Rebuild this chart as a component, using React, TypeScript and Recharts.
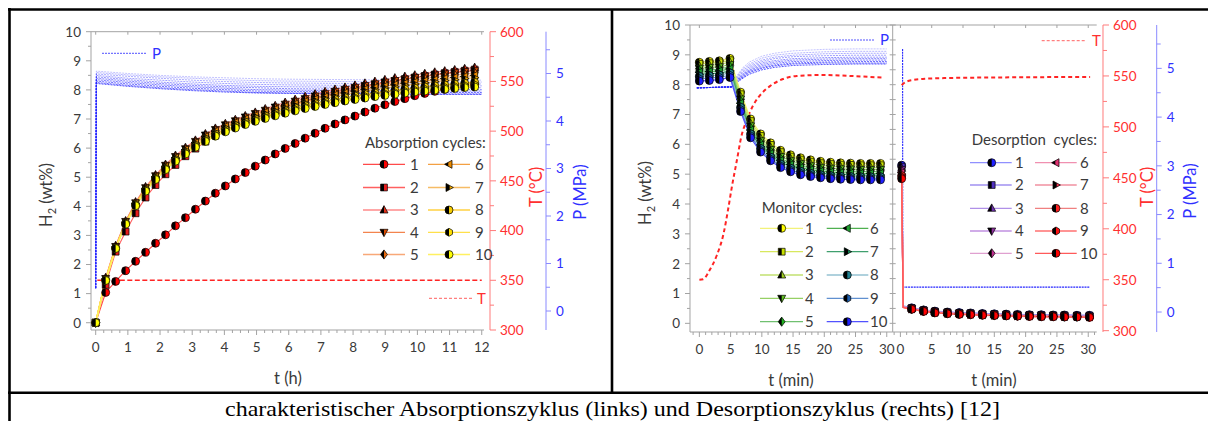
import React from "react";
import { ComposedChart, Line, XAxis, YAxis } from "recharts";

const FONT = "Lato, 'Open Sans', sans-serif";
const AXIS = "#a3a3a3";
const INK = "#3a3a3a";
const RED_AX = "#ff7a7a";
const RED_TXT = "#ff3030";
const BLUE_AX = "#8a8aff";
const BLUE_TXT = "#3030ff";
const P_LINE = "#2424ff";
const T_LINE = "#ff2424";

// ---------- absorption (left) ----------
const absTime = [0, 0.31, 0.62, 0.93, 1.24, 1.55, 1.86, 2.17, 2.48, 2.79, 3.1, 3.41, 3.72, 4.03, 4.34, 4.65, 4.96, 5.27, 5.58, 5.89, 6.2, 6.51, 6.82, 7.13, 7.44, 7.75, 8.06, 8.37, 8.68, 8.99, 9.3, 9.61, 9.92, 10.23, 10.54, 10.85, 11.16, 11.47, 11.78];
const abs1 = [0, 1.04, 1.42, 1.79, 2.11, 2.42, 2.73, 3.02, 3.33, 3.61, 3.9, 4.18, 4.45, 4.7, 4.94, 5.16, 5.38, 5.59, 5.8, 5.99, 6.16, 6.34, 6.51, 6.68, 6.83, 6.97, 7.1, 7.24, 7.37, 7.49, 7.6, 7.7, 7.8, 7.88, 7.95, 8.02, 8.08, 8.13, 8.18];
const abs2 = [0, 1.3, 2.44, 3.13, 3.76, 4.3, 4.73, 5.1, 5.42, 5.72, 5.98, 6.22, 6.43, 6.6, 6.76, 6.9, 7.03, 7.16, 7.28, 7.39, 7.5, 7.6, 7.7, 7.79, 7.88, 7.96, 8.04, 8.11, 8.18, 8.25, 8.31, 8.37, 8.43, 8.48, 8.53, 8.58, 8.62, 8.66, 8.7];
const abs3 = [0, 1.55, 2.65, 3.5, 4.15, 4.67, 5.08, 5.44, 5.75, 6.02, 6.27, 6.49, 6.68, 6.84, 6.98, 7.11, 7.23, 7.35, 7.46, 7.57, 7.67, 7.77, 7.86, 7.94, 8.02, 8.09, 8.16, 8.23, 8.29, 8.35, 8.41, 8.46, 8.51, 8.56, 8.61, 8.65, 8.69, 8.73, 8.77];
const abs4 = [0, 1.52, 2.62, 3.48, 4.12, 4.64, 5.05, 5.41, 5.71, 5.98, 6.23, 6.45, 6.64, 6.8, 6.94, 7.07, 7.19, 7.3, 7.41, 7.51, 7.61, 7.7, 7.79, 7.87, 7.95, 8.02, 8.09, 8.15, 8.21, 8.27, 8.32, 8.37, 8.42, 8.47, 8.51, 8.55, 8.59, 8.63, 8.66];
const abs5 = [0, 1.5, 2.6, 3.46, 4.1, 4.62, 5.03, 5.39, 5.69, 5.96, 6.2, 6.42, 6.61, 6.77, 6.91, 7.04, 7.16, 7.27, 7.37, 7.47, 7.57, 7.66, 7.74, 7.82, 7.89, 7.96, 8.03, 8.09, 8.15, 8.2, 8.25, 8.3, 8.35, 8.39, 8.43, 8.47, 8.51, 8.54, 8.58];
const abs6 = [0, 1.5, 2.6, 3.45, 4.1, 4.61, 5.02, 5.37, 5.67, 5.94, 6.18, 6.39, 6.58, 6.74, 6.88, 7.0, 7.12, 7.23, 7.33, 7.43, 7.52, 7.6, 7.68, 7.76, 7.83, 7.9, 7.96, 8.02, 8.08, 8.13, 8.18, 8.23, 8.27, 8.31, 8.35, 8.39, 8.43, 8.46, 8.5];
const abs7 = [0, 1.48, 2.58, 3.43, 4.08, 4.59, 5.0, 5.35, 5.65, 5.91, 6.15, 6.36, 6.54, 6.7, 6.84, 6.96, 7.08, 7.18, 7.28, 7.38, 7.47, 7.55, 7.63, 7.7, 7.77, 7.84, 7.9, 7.96, 8.01, 8.06, 8.11, 8.16, 8.2, 8.24, 8.28, 8.32, 8.35, 8.39, 8.42];
const abs8 = [0, 1.47, 2.57, 3.42, 4.06, 4.56, 4.96, 5.3, 5.6, 5.86, 6.09, 6.3, 6.48, 6.63, 6.77, 6.89, 7.0, 7.1, 7.2, 7.29, 7.38, 7.46, 7.53, 7.6, 7.67, 7.73, 7.79, 7.84, 7.89, 7.94, 7.98, 8.02, 8.06, 8.1, 8.14, 8.17, 8.2, 8.23, 8.26];
const abs9 = [0, 1.46, 2.56, 3.4, 4.04, 4.54, 4.94, 5.28, 5.57, 5.83, 6.06, 6.26, 6.44, 6.59, 6.72, 6.84, 6.95, 7.05, 7.15, 7.24, 7.32, 7.4, 7.47, 7.54, 7.6, 7.66, 7.72, 7.77, 7.82, 7.86, 7.9, 7.94, 7.98, 8.02, 8.05, 8.08, 8.11, 8.14, 8.17];
const abs10 = [0, 1.45, 2.55, 3.39, 4.02, 4.52, 4.92, 5.26, 5.55, 5.8, 6.03, 6.23, 6.41, 6.56, 6.69, 6.81, 6.92, 7.02, 7.11, 7.2, 7.28, 7.36, 7.43, 7.5, 7.56, 7.62, 7.67, 7.72, 7.77, 7.81, 7.85, 7.89, 7.93, 7.96, 7.99, 8.02, 8.05, 8.08, 8.1];

const absPTime = [0, 0.02, 1, 2, 3, 4, 5, 6, 8, 10, 12];
const absP = [
  [0.48, 5.05, 5.0, 4.96, 4.93, 4.91, 4.89, 4.88, 4.87, 4.86, 4.86],
  [0.48, 5.02, 4.97, 4.93, 4.9, 4.87, 4.85, 4.84, 4.83, 4.82, 4.82],
  [0.48, 4.99, 4.94, 4.9, 4.86, 4.83, 4.81, 4.8, 4.79, 4.78, 4.78],
  [0.48, 4.96, 4.9, 4.86, 4.82, 4.79, 4.77, 4.76, 4.75, 4.74, 4.74],
  [0.48, 4.93, 4.87, 4.82, 4.78, 4.75, 4.73, 4.72, 4.71, 4.7, 4.7],
  [0.48, 4.9, 4.84, 4.79, 4.75, 4.72, 4.7, 4.68, 4.67, 4.67, 4.66],
  [0.48, 4.87, 4.81, 4.76, 4.72, 4.69, 4.66, 4.65, 4.64, 4.63, 4.63],
  [0.48, 4.84, 4.78, 4.73, 4.69, 4.66, 4.63, 4.62, 4.61, 4.6, 4.6],
  [0.48, 4.81, 4.75, 4.7, 4.66, 4.63, 4.6, 4.59, 4.58, 4.57, 4.57],
  [0.48, 4.79, 4.73, 4.68, 4.64, 4.61, 4.59, 4.58, 4.57, 4.56, 4.56],
];
const absTempTime = [0.05, 12];
const absTemp = [350, 350];

// ---------- monitor (right panel, left part) ----------
const monTime = [0, 1.6, 3.2, 4.9, 6.6, 8.2, 9.8, 11.4, 13, 14.6, 16.2, 17.8, 19.4, 21, 22.6, 24.2, 25.8, 27.4, 29];
const mon = [
  [8.75, 8.78, 8.8, 8.88, 7.75, 6.85, 6.35, 6.05, 5.8, 5.65, 5.55, 5.48, 5.43, 5.4, 5.38, 5.37, 5.36, 5.36, 5.36],
  [8.7, 8.72, 8.75, 8.82, 7.68, 6.78, 6.28, 5.98, 5.74, 5.59, 5.49, 5.42, 5.37, 5.34, 5.32, 5.31, 5.3, 5.3, 5.3],
  [8.62, 8.65, 8.68, 8.75, 7.6, 6.7, 6.2, 5.9, 5.66, 5.52, 5.42, 5.35, 5.3, 5.27, 5.25, 5.24, 5.23, 5.23, 5.23],
  [8.55, 8.58, 8.6, 8.67, 7.52, 6.62, 6.12, 5.83, 5.59, 5.45, 5.35, 5.28, 5.23, 5.2, 5.18, 5.17, 5.16, 5.16, 5.16],
  [8.48, 8.5, 8.52, 8.6, 7.45, 6.55, 6.05, 5.76, 5.52, 5.38, 5.28, 5.21, 5.16, 5.13, 5.11, 5.1, 5.09, 5.09, 5.09],
  [8.42, 8.44, 8.46, 8.53, 7.38, 6.48, 5.98, 5.69, 5.46, 5.32, 5.22, 5.15, 5.1, 5.07, 5.05, 5.04, 5.03, 5.03, 5.03],
  [8.35, 8.37, 8.39, 8.46, 7.31, 6.41, 5.92, 5.63, 5.4, 5.26, 5.16, 5.09, 5.04, 5.01, 4.99, 4.98, 4.97, 4.97, 4.97],
  [8.28, 8.3, 8.32, 8.39, 7.24, 6.35, 5.86, 5.57, 5.34, 5.2, 5.1, 5.03, 4.98, 4.95, 4.93, 4.92, 4.91, 4.91, 4.91],
  [8.2, 8.22, 8.25, 8.32, 7.17, 6.29, 5.8, 5.51, 5.28, 5.14, 5.04, 4.97, 4.93, 4.9, 4.88, 4.87, 4.86, 4.86, 4.86],
  [8.12, 8.14, 8.17, 8.24, 7.1, 6.22, 5.74, 5.45, 5.22, 5.08, 4.98, 4.92, 4.88, 4.85, 4.83, 4.82, 4.81, 4.81, 4.81],
];
const monPTime = [-0.4, 5.2, 6, 7, 8, 10, 12, 15, 20, 25, 30];
const monP = [
  [4.6, 4.62, 4.85, 5.02, 5.13, 5.25, 5.31, 5.36, 5.39, 5.4, 5.4],
  [4.6, 4.62, 4.83, 4.99, 5.09, 5.21, 5.27, 5.31, 5.34, 5.35, 5.35],
  [4.6, 4.62, 4.81, 4.96, 5.06, 5.17, 5.23, 5.27, 5.3, 5.31, 5.31],
  [4.6, 4.62, 4.79, 4.93, 5.03, 5.14, 5.2, 5.24, 5.26, 5.27, 5.27],
  [4.6, 4.62, 4.77, 4.9, 5.0, 5.11, 5.16, 5.2, 5.22, 5.23, 5.23],
  [4.6, 4.62, 4.76, 4.88, 4.97, 5.08, 5.13, 5.17, 5.19, 5.2, 5.2],
  [4.6, 4.62, 4.74, 4.86, 4.95, 5.05, 5.1, 5.14, 5.16, 5.17, 5.17],
  [4.6, 4.62, 4.73, 4.84, 4.93, 5.02, 5.07, 5.11, 5.13, 5.14, 5.14],
  [4.6, 4.62, 4.72, 4.82, 4.91, 5.0, 5.05, 5.09, 5.11, 5.11, 5.11],
  [4.6, 4.62, 4.71, 4.8, 4.88, 4.97, 5.02, 5.06, 5.08, 5.09, 5.09],
];
const monTempTime = [0, 0.6, 1.7, 2.8, 3.9, 4.6, 5.2, 6.0, 6.7, 7.6, 8.6, 10, 11.3, 13.4, 15.6, 19.8, 24.1, 29.4];
const monTemp = [350, 350.5, 360, 374, 396, 419, 441, 467, 490, 507, 521, 533, 540, 547, 550, 551, 550, 548.3];

// ---------- desorption (right panel, right part) ----------
const desTime = [0.2, 0.45, 1.8, 3.7, 5.5, 7.5, 9.4, 11.2, 13.1, 15, 16.9, 18.7, 20.6, 22.5, 24.4, 26.2, 28.2, 30.2];
const des = [
  [5.3, 0.58, 0.52, 0.45, 0.41, 0.38, 0.36, 0.35, 0.33, 0.32, 0.31, 0.3, 0.29, 0.29, 0.28, 0.28, 0.27, 0.27],
  [5.25, 0.57, 0.51, 0.44, 0.4, 0.37, 0.35, 0.34, 0.32, 0.31, 0.3, 0.29, 0.28, 0.28, 0.27, 0.27, 0.26, 0.26],
  [5.2, 0.56, 0.5, 0.44, 0.39, 0.36, 0.34, 0.33, 0.31, 0.3, 0.29, 0.28, 0.27, 0.27, 0.26, 0.26, 0.25, 0.25],
  [5.15, 0.56, 0.5, 0.43, 0.38, 0.35, 0.33, 0.32, 0.3, 0.29, 0.28, 0.27, 0.26, 0.26, 0.25, 0.25, 0.24, 0.24],
  [5.1, 0.55, 0.49, 0.42, 0.38, 0.35, 0.33, 0.31, 0.3, 0.28, 0.27, 0.26, 0.26, 0.25, 0.24, 0.24, 0.23, 0.23],
  [5.05, 0.55, 0.49, 0.42, 0.37, 0.34, 0.32, 0.31, 0.29, 0.28, 0.27, 0.26, 0.25, 0.24, 0.24, 0.23, 0.23, 0.22],
  [5.0, 0.54, 0.48, 0.41, 0.37, 0.34, 0.32, 0.3, 0.29, 0.27, 0.26, 0.25, 0.25, 0.24, 0.23, 0.23, 0.22, 0.22],
  [4.95, 0.54, 0.48, 0.41, 0.36, 0.33, 0.31, 0.3, 0.28, 0.27, 0.26, 0.25, 0.24, 0.23, 0.23, 0.22, 0.22, 0.21],
  [4.9, 0.53, 0.47, 0.4, 0.36, 0.33, 0.31, 0.29, 0.28, 0.26, 0.25, 0.24, 0.24, 0.23, 0.22, 0.22, 0.21, 0.21],
  [4.85, 0.53, 0.47, 0.4, 0.35, 0.32, 0.3, 0.29, 0.27, 0.26, 0.25, 0.24, 0.23, 0.22, 0.22, 0.21, 0.21, 0.2],
];
const desLineOnlyIdx = [1];
const desPTime = [0.35, 0.38, 30.3];
const desP = [5.4, 0.51, 0.51];
const desTempTime = [0.2, 0.8, 2, 4, 8, 15, 30.3];
const desTemp = [541, 544, 546, 547.3, 548, 548.5, 549];

// ---------- styling per cycle ----------
type Shape = "circle" | "square" | "up" | "down" | "diamond" | "left" | "right" | "hex";
const SHAPES: Shape[] = ["circle", "square", "up", "down", "diamond", "left", "right", "circle", "hex", "circle"];
const ABS_LINE = ["#ff4a4a", "#ff6060", "#ff8a8a", "#f3844e", "#f8a878", "#f3a043", "#f6bc66", "#ffd040", "#ffe04a", "#fff060"];
const ABS_FILL = ["#ff0000", "#e81c1c", "#e0301a", "#d84a00", "#e86a10", "#ea8a00", "#f0a800", "#f5cc00", "#ffe000", "#ffff00"];
const MON_LINE = ["#f2f27a", "#d8e85e", "#c2e070", "#96d064", "#70c070", "#4fb050", "#3f9f6e", "#94c2d2", "#6090d0", "#5252ff"];
const MON_FILL = ["#ffff00", "#c8e000", "#a0d020", "#60c020", "#20b020", "#20a030", "#108050", "#208090", "#2060b0", "#2020ff"];
const DES_LINE = ["#9090ff", "#a090f0", "#b090e8", "#c090e0", "#e0a0d0", "#f090b0", "#f090a0", "#f08080", "#ff7070", "#ff5a5a"];
const DES_FILL = ["#2020ff", "#5030c0", "#7030b0", "#9030a0", "#c03090", "#e03070", "#f03050", "#ff2020", "#ff1010", "#ff0000"];

const range = (a: number, b: number, s: number) => {
  const out: number[] = [];
  for (let v = a; v <= b + 1e-9; v += s) out.push(Math.round(v * 1000) / 1000);
  return out;
};
const xy = (xs: number[], ys: number[]) => ys.map((y, i) => ({ x: xs[i], y }));
const isInt = (v: number) => Math.abs(v - Math.round(v)) < 1e-6;
const isMul = (m: number) => (v: number) => Math.abs(v / m - Math.round(v / m)) < 1e-6;

function shapePath(shape: Shape, cx: number, cy: number, r: number): string {
  switch (shape) {
    case "circle":
      return `M${cx - r},${cy}a${r},${r} 0 1,0 ${2 * r},0a${r},${r} 0 1,0 ${-2 * r},0Z`;
    case "square": {
      const s = r * 0.85;
      return `M${cx - s},${cy - s}h${2 * s}v${2 * s}h${-2 * s}Z`;
    }
    case "up":
      return `M${cx},${cy - r * 1.1}L${cx + r},${cy + r * 0.75}L${cx - r},${cy + r * 0.75}Z`;
    case "down":
      return `M${cx},${cy + r * 1.1}L${cx + r},${cy - r * 0.75}L${cx - r},${cy - r * 0.75}Z`;
    case "diamond":
      return `M${cx},${cy - r * 1.15}L${cx + r * 0.85},${cy}L${cx},${cy + r * 1.15}L${cx - r * 0.85},${cy}Z`;
    case "left":
      return `M${cx - r * 1.1},${cy}L${cx + r * 0.75},${cy - r}L${cx + r * 0.75},${cy + r}Z`;
    case "right":
      return `M${cx + r * 1.1},${cy}L${cx - r * 0.75},${cy - r}L${cx - r * 0.75},${cy + r}Z`;
    case "hex": {
      const pts = [0, 1, 2, 3, 4, 5].map((k) => {
        const a = (Math.PI / 3) * k + Math.PI / 6;
        return `${cx + r * Math.cos(a)},${cy + r * Math.sin(a)}`;
      });
      return `M${pts.join("L")}Z`;
    }
  }
}

function Marker({ cx, cy, shape, fill, r = 4 }: { cx: number; cy: number; shape: Shape; fill: string; r?: number }) {
  const d = shapePath(shape, cx, cy, r);
  return (
    <g>
      <path d={d} fill={fill} />
      <path d={d} fill="#000" clipPath="url(#halfL)" />
      <path d={d} fill="none" stroke="#000" strokeWidth={0.7} />
    </g>
  );
}

const dotFor = (id: string, shape: Shape, fill: string, skip: number[] = []) => (p: any) => {
  const key = `${id}-${p.index}`;
  if (skip.includes(p.index) || p.cx == null || p.cy == null) return <g key={key} />;
  return <Marker key={key} cx={p.cx} cy={p.cy} shape={shape} fill={fill} />;
};

type Orient = "left" | "right" | "bottom" | "top" | "both";
function tickFn(o: Orient, major: (v: number) => boolean, lineColor: string, textColor: string, label: boolean, big = 5, small = 3) {
  return (props: any) => {
    const { x, y, payload } = props;
    const v = payload.value as number;
    const M = major(v);
    const len = M ? big : small;
    const txt = String(Math.round(v));
    const ts = { fontFamily: FONT, fontSize: 13.5, fill: textColor };
    if (o === "left")
      return (
        <g>
          <line x1={x} y1={y} x2={x - len} y2={y} stroke={lineColor} />
          {label && M && <text x={x - 10} y={y} dy="0.36em" textAnchor="end" style={ts}>{txt}</text>}
        </g>
      );
    if (o === "right")
      return (
        <g>
          <line x1={x} y1={y} x2={x + len} y2={y} stroke={lineColor} />
          {label && M && <text x={x + 10} y={y} dy="0.36em" textAnchor="start" style={ts}>{txt}</text>}
        </g>
      );
    if (o === "both") return <line x1={x - len} y1={y} x2={x + len} y2={y} stroke={lineColor} />;
    if (o === "top") return <line x1={x} y1={y} x2={x} y2={y + 3} stroke={lineColor} />;
    return (
      <g>
        <line x1={x} y1={y} x2={x} y2={y + len} stroke={lineColor} />
        {label && M && <text x={x} y={y + 17} dy="0.36em" textAnchor="middle" style={ts}>{txt}</text>}
      </g>
    );
  };
}

const H_TICKS = range(0, 10, 0.5);
const T_TICKS = range(300, 600, 25);
const P_TICKS = range(0, 5.5, 0.5);
const ABS_X_TICKS = range(0, 12, 0.25);
const ABS_TOP_TICKS = range(0, 12, 1);
const MIN_X_TICKS = range(-1, 30, 1);
const DES_X_TICKS = range(-1, 31, 1);
const MIN_TOP_TICKS = range(0, 30, 5);

const axisCommon = { tickSize: 0, tickMargin: 0, tickLine: false, interval: 0 as const, allowDataOverflow: true };
// dotted pressure traces: upper ones paler, lower ones darker
const pStyle = (i: number) => ({ stroke: P_LINE, strokeWidth: 0.8, strokeDasharray: "2 1", strokeOpacity: 0.35 + i * 0.07 });

// right-hand axes: ids sorted so the spacer sits next to the plot, then T, then P
function LeftChart() {
  return (
    <ComposedChart width={620} height={392} margin={{ top: 31.7, right: 34, bottom: 32, left: 41 }}>
      <XAxis xAxisId="b" type="number" dataKey="x" domain={[-0.146, 12.07]} ticks={ABS_X_TICKS} height={30}
        axisLine={{ stroke: AXIS }} tick={tickFn("bottom", isInt, AXIS, INK, true)} {...axisCommon} />
      <XAxis xAxisId="t" orientation="top" mirror type="number" dataKey="x" domain={[-0.146, 12.07]} ticks={ABS_TOP_TICKS}
        axisLine={{ stroke: AXIS }} tick={tickFn("top", isInt, AXIS, INK, false)} {...axisCommon} />
      <YAxis yAxisId="h" orientation="left" width={50} type="number" domain={[-0.25, 10]} ticks={H_TICKS}
        axisLine={{ stroke: AXIS }} tick={tickFn("left", isInt, AXIS, INK, true)} {...axisCommon} />
      <YAxis yAxisId="c_P" orientation="right" width={40} type="number" domain={[-0.4, 5.88]} ticks={P_TICKS}
        axisLine={{ stroke: BLUE_AX }} tick={tickFn("right", isInt, BLUE_AX, BLUE_TXT, true, 5, 4)} {...axisCommon} />
      <YAxis yAxisId="b_T" orientation="right" width={56} type="number" domain={[300, 600]} ticks={T_TICKS}
        axisLine={{ stroke: RED_AX }} tick={tickFn("right", isMul(50), RED_AX, RED_TXT, true, 6, 4)} {...axisCommon} />
      <YAxis yAxisId="a_sp" orientation="right" width={6} type="number" domain={[0, 1]} axisLine={false} tick={false} tickLine={false} />
      {absP.map((ys, i) => (
        <Line key={`ap${i}`} xAxisId="b" yAxisId="c_P" data={xy(absPTime, ys)} dataKey="y" {...pStyle(i)}
          dot={false} activeDot={false} isAnimationActive={false} />
      ))}
      <Line xAxisId="b" yAxisId="b_T" data={xy(absTempTime, absTemp)} dataKey="y" stroke={T_LINE} strokeWidth={1.5}
        strokeDasharray="5 2.5" dot={false} activeDot={false} isAnimationActive={false} />
      {[abs1, abs2, abs3, abs4, abs5, abs6, abs7, abs8, abs9, abs10].map((ys, i) => (
        <Line key={`a${i}`} xAxisId="b" yAxisId="h" data={xy(absTime, ys)} dataKey="y" stroke={ABS_LINE[i]}
          strokeWidth={i >= 7 ? 1.6 : 1.1} dot={dotFor(`a${i}`, SHAPES[i], ABS_FILL[i])} activeDot={false} isAnimationActive={false} />
      ))}
    </ComposedChart>
  );
}

function MonitorChart() {
  return (
    <ComposedChart width={292.7} height={392} margin={{ top: 25, right: 12, bottom: 30, left: 28 }}>
      <XAxis xAxisId="b" type="number" dataKey="x" domain={[-1.5, 30.95]} ticks={MIN_X_TICKS} height={30}
        axisLine={{ stroke: AXIS }} tick={tickFn("bottom", isMul(5), AXIS, INK, true)} {...axisCommon} />
      <XAxis xAxisId="t" orientation="top" mirror type="number" dataKey="x" domain={[-1.5, 30.95]} ticks={MIN_TOP_TICKS}
        axisLine={{ stroke: AXIS }} tick={tickFn("top", isInt, AXIS, INK, false)} {...axisCommon} />
      <YAxis yAxisId="h" orientation="left" width={50} type="number" domain={[-0.29, 10]} ticks={H_TICKS}
        axisLine={{ stroke: AXIS }} tick={tickFn("left", isInt, AXIS, INK, true)} {...axisCommon} />
      <YAxis yAxisId="T" orientation="right" hide type="number" domain={[298.7, 600]} allowDataOverflow />
      <YAxis yAxisId="P" orientation="right" hide type="number" domain={[-0.41, 5.89]} allowDataOverflow />
      {monP.map((ys, i) => (
        <Line key={`mp${i}`} xAxisId="b" yAxisId="P" data={xy(monPTime, ys)} dataKey="y" {...pStyle(i)}
          dot={false} activeDot={false} isAnimationActive={false} />
      ))}
      <Line xAxisId="b" yAxisId="T" type="monotone" data={xy(monTempTime, monTemp)} dataKey="y" stroke={T_LINE} strokeWidth={2}
        strokeDasharray="4 3" dot={false} activeDot={false} isAnimationActive={false} />
      {mon.map((ys, i) => (
        <Line key={`m${i}`} xAxisId="b" yAxisId="h" data={xy(monTime, ys)} dataKey="y" stroke={MON_LINE[i]}
          strokeWidth={1.2} dot={dotFor(`m${i}`, SHAPES[i], MON_FILL[i])} activeDot={false} isAnimationActive={false} />
      ))}
    </ComposedChart>
  );
}

function DesorptionChart() {
  return (
    <ComposedChart width={326.7} height={392} margin={{ top: 25, right: 5, bottom: 30, left: 0 }}>
      <XAxis xAxisId="b" type="number" dataKey="x" domain={[-1.23, 31.35]} ticks={DES_X_TICKS} height={30}
        axisLine={{ stroke: AXIS }} tick={tickFn("bottom", isMul(5), AXIS, INK, true)} {...axisCommon} />
      <XAxis xAxisId="t" orientation="top" mirror type="number" dataKey="x" domain={[-1.23, 31.35]} ticks={MIN_TOP_TICKS}
        axisLine={{ stroke: AXIS }} tick={tickFn("top", isInt, AXIS, INK, false)} {...axisCommon} />
      <YAxis yAxisId="h" orientation="left" width={12.7} type="number" domain={[-0.29, 10]} ticks={H_TICKS}
        axisLine={{ stroke: AXIS }} tick={tickFn("both", isInt, AXIS, INK, false, 3, 3)} {...axisCommon} />
      <YAxis yAxisId="c_P" orientation="right" width={45} type="number" domain={[-0.41, 5.89]} ticks={P_TICKS}
        axisLine={{ stroke: BLUE_AX }} tick={tickFn("right", isInt, BLUE_AX, BLUE_TXT, true, 5, 4)} {...axisCommon} />
      <YAxis yAxisId="b_T" orientation="right" width={53.7} type="number" domain={[298.7, 600]} ticks={T_TICKS}
        axisLine={{ stroke: RED_AX }} tick={tickFn("right", isMul(50), RED_AX, RED_TXT, true, 6, 4)} {...axisCommon} />
      <YAxis yAxisId="a_sp" orientation="right" width={6.3} type="number" domain={[0, 1]} axisLine={false} tick={false} tickLine={false} />
      <Line xAxisId="b" yAxisId="c_P" data={xy(desPTime, desP)} dataKey="y" stroke={P_LINE} strokeWidth={1.1}
        strokeDasharray="2 0.8" dot={false} activeDot={false} isAnimationActive={false} />
      <Line xAxisId="b" yAxisId="b_T" type="monotone" data={xy(desTempTime, desTemp)} dataKey="y" stroke={T_LINE} strokeWidth={2}
        strokeDasharray="4 3" dot={false} activeDot={false} isAnimationActive={false} />
      {des.map((ys, i) => (
        <Line key={`d${i}`} xAxisId="b" yAxisId="h" data={xy(desTime, ys)} dataKey="y" stroke={DES_LINE[i]}
          strokeWidth={1.4} dot={dotFor(`d${i}`, SHAPES[i], DES_FILL[i], desLineOnlyIdx)} activeDot={false} isAnimationActive={false} />
      ))}
    </ComposedChart>
  );
}

type LegendSpec = {
  title: string;
  titleX: number;
  titleY: number;
  rows: number[];
  cols: { x1: number; x2: number; m: number; lx: number }[];
  lines: string[];
  fills: string[];
};

function LegendBlock({ s }: { s: LegendSpec }) {
  const ts = { fontFamily: FONT, fontSize: 15, fill: INK, whiteSpace: "pre" as const };
  return (
    <g>
      <text x={s.titleX} y={s.titleY} dy="0.36em" style={ts}>{s.title}</text>
      {s.lines.map((c, i) => {
        const col = s.cols[i < 5 ? 0 : 1];
        const y = s.rows[i % 5];
        return (
          <g key={i}>
            <line x1={col.x1} y1={y} x2={col.x2} y2={y} stroke={c} strokeWidth={1.3} />
            <Marker cx={col.m} cy={y} shape={SHAPES[i]} fill={s.fills[i]} />
            <text x={col.lx} y={y} dy="0.36em" style={ts}>{String(i + 1)}</text>
          </g>
        );
      })}
    </g>
  );
}

const absLegend: LegendSpec = {
  title: "Absorption cycles:", titleX: 365, titleY: 142.5,
  rows: [164.3, 187.5, 210, 232.3, 254.5],
  cols: [{ x1: 363, x2: 405, m: 384, lx: 410 }, { x1: 428, x2: 470, m: 449, lx: 475 }],
  lines: ABS_LINE, fills: ABS_FILL,
};
const monLegend: LegendSpec = {
  title: "Monitor cycles:", titleX: 761.7, titleY: 207.3,
  rows: [228.3, 251.7, 275, 298.3, 321.7],
  cols: [{ x1: 760, x2: 803, m: 781.7, lx: 805 }, { x1: 826.7, x2: 868.3, m: 847.3, lx: 870 }],
  lines: MON_LINE, fills: MON_FILL,
};
const desLegend: LegendSpec = {
  title: "Desorption  cycles:", titleX: 971.7, titleY: 139.5,
  rows: [162.7, 185, 208.3, 231, 253.3],
  cols: [{ x1: 970, x2: 1011.7, m: 991.7, lx: 1015 }, { x1: 1035, x2: 1076.7, m: 1056, lx: 1080 }],
  lines: DES_LINE, fills: DES_FILL,
};

function VTitle({ x, y, color, children }: { x: number; y: number; color: string; children: React.ReactNode }) {
  return (
    <text x={x} y={y} transform={`rotate(-90 ${x} ${y})`} textAnchor="middle" dy="0.36em"
      style={{ fontFamily: FONT, fontSize: 16.5, fill: color }}>
      {children}
    </text>
  );
}

function Overlay() {
  const tt = { fontFamily: FONT, fontSize: 16.5, fill: INK };
  return (
    <svg width={1208} height={421} style={{ position: "absolute", left: 0, top: 0, pointerEvents: "none" }}>
      {/* frame */}
      <line x1={9.5} y1={8} x2={9.5} y2={421} stroke="#000" strokeWidth={2.6} />
      <line x1={8} y1={9.5} x2={1208} y2={9.5} stroke="#000" strokeWidth={2.6} />
      <line x1={612} y1={9} x2={612} y2={392} stroke="#000" strokeWidth={2.6} />
      <line x1={8} y1={392.7} x2={1208} y2={392.7} stroke="#000" strokeWidth={2.6} />

      {/* axis titles */}
      <VTitle x={46.5} y={195} color={INK}>H<tspan dy="4" fontSize={11}>2</tspan><tspan dy="-4"> (wt%)</tspan></VTitle>
      <VTitle x={645} y={193} color={INK}>H<tspan dy="4" fontSize={11}>2</tspan><tspan dy="-4"> (wt%)</tspan></VTitle>
      <VTitle x={536} y={187} color={RED_TXT}>T (°C)</VTitle>
      <VTitle x={580} y={192} color={BLUE_TXT}>P (MPa)</VTitle>
      <VTitle x={1147} y={187} color={RED_TXT}>T (°C)</VTitle>
      <VTitle x={1190} y={191} color={BLUE_TXT}>P (MPa)</VTitle>
      <text x={288} y={378} dy="0.36em" textAnchor="middle" style={tt}>t (h)</text>
      <text x={791} y={380} dy="0.36em" textAnchor="middle" style={tt}>t (min)</text>
      <text x={994} y={380} dy="0.36em" textAnchor="middle" style={tt}>t (min)</text>

      {/* P / T legends */}
      <line x1={102} y1={53.3} x2={147} y2={53.3} stroke={P_LINE} strokeWidth={0.8} strokeDasharray="2 1" />
      <text x={152} y={53.3} dy="0.36em" style={{ fontFamily: FONT, fontSize: 15, fill: BLUE_TXT }}>P</text>
      <line x1={429} y1={298.3} x2={472} y2={298.3} stroke="#ff6060" strokeWidth={1} strokeDasharray="3 2" />
      <text x={477} y={298.3} dy="0.36em" style={{ fontFamily: FONT, fontSize: 15, fill: RED_TXT }}>T</text>
      <line x1={830} y1={40} x2={875} y2={40} stroke={P_LINE} strokeWidth={0.8} strokeDasharray="2 1" />
      <text x={880} y={40} dy="0.36em" style={{ fontFamily: FONT, fontSize: 15, fill: BLUE_TXT }}>P</text>
      <line x1={1041.7} y1={40.7} x2={1086.7} y2={40.7} stroke="#ff6060" strokeWidth={1} strokeDasharray="3 2" />
      <text x={1092} y={40.7} dy="0.36em" style={{ fontFamily: FONT, fontSize: 15, fill: RED_TXT }}>T</text>

      <LegendBlock s={absLegend} />
      <LegendBlock s={monLegend} />
      <LegendBlock s={desLegend} />

      <text x={612.5} y={416} textAnchor="middle" textLength={775} lengthAdjust="spacingAndGlyphs"
        style={{ fontFamily: "'Liberation Serif', 'Times New Roman', serif", fontSize: 21, fill: "#000" }}>
        charakteristischer Absorptionszyklus (links) und Desorptionszyklus (rechts) [12]
      </text>
    </svg>
  );
}

export default function App() {
  return (
    <div style={{ position: "absolute", left: 0, top: 0, width: 1208, height: 421, background: "#fff", overflow: "hidden" }}>
      <svg width={0} height={0} style={{ position: "absolute" }}>
        <defs>
          <clipPath id="halfL" clipPathUnits="objectBoundingBox">
            <rect x={0} y={0} width={0.5} height={1} />
          </clipPath>
        </defs>
      </svg>
      <div style={{ position: "absolute", left: 0, top: 0 }}><LeftChart /></div>
      <div style={{ position: "absolute", left: 612, top: 0 }}><MonitorChart /></div>
      <div style={{ position: "absolute", left: 880, top: 0 }}><DesorptionChart /></div>
      <Overlay />
    </div>
  );
}
